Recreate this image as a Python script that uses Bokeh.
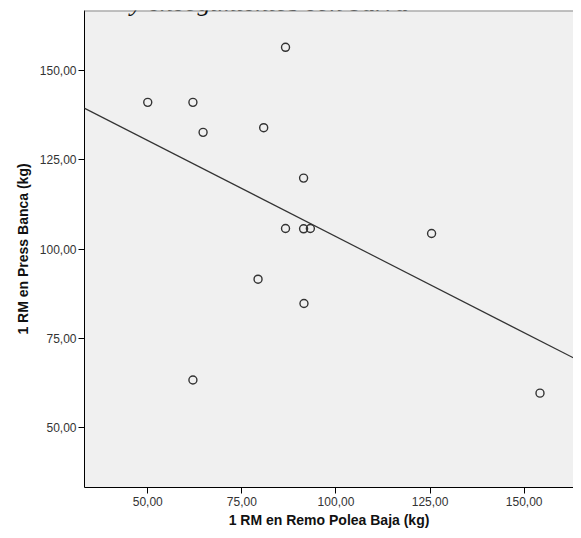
import numpy as np
from bokeh.plotting import figure
from bokeh.models import Range1d, FixedTicker, Span, Slope, Label
from bokeh.embed import file_html
from bokeh.resources import INLINE

# Data
remo_polea_baja = [86.6, 50.0, 62.0, 64.7, 80.8, 91.4, 86.6, 91.4, 93.2, 79.3, 91.5, 125.4, 154.2, 62.0]
press_banca = [156.5, 141.1, 141.1, 132.7, 134.0, 119.9, 105.8, 105.7, 105.8, 91.6, 84.8, 104.4, 59.7, 63.4]

x_ticks = [50, 75, 100, 125, 150]
x_tick_labels = ["50,00", "75,00", "100,00", "125,00", "150,00"]
y_ticks = [50, 75, 100, 125, 150]
y_tick_labels = ["50,00", "75,00", "100,00", "125,00", "150,00"]

chart_title = "y encogimientos con barra"
x_title = "1 RM en Remo Polea Baja (kg)"
y_title = "1 RM en Press Banca (kg)"

x_min, x_max = 33.2, 163.1
y_min, y_max = 33.3, 166.8

p = figure(width=573, height=530, output_backend="svg", toolbar_location=None,
           title=None,
           x_range=Range1d(x_min, x_max), y_range=Range1d(y_min, y_max),
           min_border_left=84, min_border_right=0, min_border_top=10, min_border_bottom=43)

p.background_fill_color = "#f0f0f0"
p.border_fill_color = "white"
p.outline_line_color = None
p.xgrid.visible = False
p.ygrid.visible = False

FONT = "Liberation Sans"
for ax, ticks, labels, title in ((p.xaxis[0], x_ticks, x_tick_labels, x_title),
                                 (p.yaxis[0], y_ticks, y_tick_labels, y_title)):
    ax.ticker = FixedTicker(ticks=ticks)
    ax.major_label_overrides = dict(zip(ticks, labels))
    ax.axis_label = title
    ax.axis_label_text_font = FONT
    ax.axis_label_text_font_style = "bold"
    ax.axis_label_text_font_size = "14px"
    ax.axis_label_text_color = "#111111"
    ax.major_label_text_font = FONT
    ax.major_label_text_font_size = "12px"
    ax.major_label_text_color = "#333333"
    ax.axis_line_color = "black"
    ax.axis_line_width = 1
    ax.major_tick_line_color = "black"
    ax.major_tick_in = 0
    ax.major_tick_out = 6
    ax.minor_tick_line_color = None

p.yaxis[0].major_label_standoff = 2
p.yaxis[0].axis_label_standoff = 6
p.xaxis[0].major_label_standoff = 3
p.xaxis[0].axis_label_standoff = 3

# top border of the frame
p.add_layout(Span(location=y_max, dimension="width", line_color="#8a8a8a", line_width=2))

# chart title (only its lower part is visible, as in the reference)
p.add_layout(Label(x=46, y=y_max, x_units="screen", y_offset=8, text=chart_title,
                   text_font="Liberation Serif", text_font_style="italic",
                   text_font_size="26px", text_color="#111111",
                   text_baseline="alphabetic", text_align="left"))

# fit line (least squares from the data)
m, b = np.polyfit(np.array(remo_polea_baja), np.array(press_banca), 1)
p.add_layout(Slope(gradient=float(m), y_intercept=float(b), line_color="#333333", line_width=1.2))

p.scatter(remo_polea_baja, press_banca, marker="circle", size=8,
          fill_color=None, line_color="#333333", line_width=1.4)

open("out.html", "w").write(file_html(p, INLINE))
